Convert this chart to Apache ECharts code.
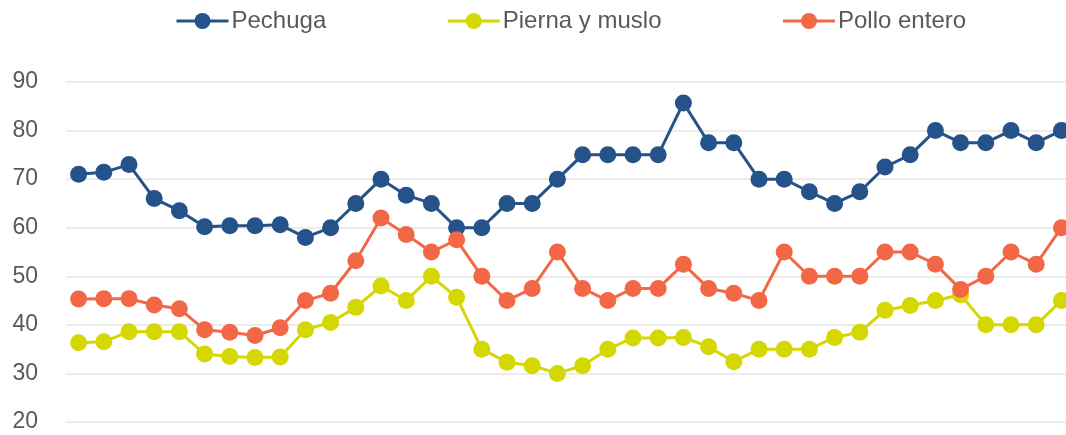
<!DOCTYPE html>
<html style="height: 100%">
<head>
    <meta charset="utf-8">
    <title>Pechuga, Pierna y muslo, Pollo entero</title>
    <script type="text/javascript" src="https://cdn.jsdelivr.net/npm/echarts@6/dist/echarts.min.js"></script>
</head>
<body style="height: 100%; margin: 0; background: #fff; overflow: hidden">
    <!-- el grafico original esta recortado a la derecha: el lienzo es algo mas ancho que la ventana -->
    <div id="container" style="width: 1074px; height: 435px"></div>
    <script type="text/javascript">
        // 40 periodos, sin etiquetas en el eje X
        var categorias = [];
        for (var i = 1; i <= 40; i++) {
            categorias.push(String(i));
        }

        var pechuga = [71, 71.4, 73, 66, 63.5, 60.2, 60.4, 60.4, 60.6, 58,
            60, 65, 70, 66.7, 65, 60, 60, 65, 65, 70,
            75, 75, 75, 75, 85.7, 77.5, 77.5, 70, 70, 67.4,
            65, 67.4, 72.5, 75, 80, 77.5, 77.5, 80, 77.5, 80];

        var piernaMuslo = [36.3, 36.5, 38.6, 38.6, 38.6, 34, 33.5, 33.3, 33.4, 39,
            40.5, 43.6, 48, 45, 50, 45.7, 35, 32.3, 31.6, 30,
            31.6, 35, 37.3, 37.3, 37.4, 35.5, 32.4, 35, 35, 35,
            37.4, 38.5, 43, 44, 45, 46.2, 40, 40, 40, 45];

        var polloEntero = [45.3, 45.4, 45.4, 44.1, 43.3, 39, 38.5, 37.8, 39.4, 45,
            46.5, 53.2, 62, 58.6, 55, 57.5, 50, 45, 47.5, 55,
            47.5, 45, 47.5, 47.5, 52.5, 47.5, 46.5, 45, 55, 50,
            50, 50, 55, 55, 52.5, 47.3, 50, 55, 52.5, 60];

        var nombres = ['Pechuga', 'Pierna y muslo', 'Pollo entero'];
        var colores = ['#245289', '#d4d700', '#f26846'];

        var myChart = echarts.init(document.getElementById('container'));

        function serie(nombre, datos, color) {
            return {
                name: nombre,
                type: 'line',
                data: datos,
                symbol: 'circle',
                symbolSize: 17,
                showAllSymbol: true,
                clip: false,
                lineStyle: { color: color, width: 3 },
                itemStyle: { color: color }
            };
        }

        var option = {
            animation: false,
            legend: {
                data: nombres,
                left: 170,
                top: 4,
                itemGap: 120,
                itemWidth: 52,
                itemHeight: 20,
                lineStyle: { width: 3 },
                textStyle: {
                    fontFamily: 'Liberation Sans',
                    fontSize: 24,
                    color: '#595959',
                    padding: [0, 0, 0, -2]
                }
            },
            grid: {
                left: 66,
                right: 0,
                top: 82,
                bottom: 13
            },
            xAxis: {
                type: 'category',
                data: categorias,
                boundaryGap: true,
                axisLine: { show: false },
                axisTick: { show: false },
                axisLabel: { show: false }
            },
            yAxis: {
                type: 'value',
                min: 20,
                max: 90,
                interval: 10,
                axisLine: { show: false },
                axisTick: { show: false },
                axisLabel: {
                    margin: 28,
                    fontFamily: 'Liberation Sans',
                    fontSize: 23,
                    color: '#595959'
                },
                splitLine: {
                    lineStyle: { color: '#ececec', width: 2 }
                }
            },
            series: [
                serie(nombres[0], pechuga, colores[0]),
                serie(nombres[1], piernaMuslo, colores[1]),
                serie(nombres[2], polloEntero, colores[2])
            ]
        };

        myChart.setOption(option);
    </script>
</body>
</html>
